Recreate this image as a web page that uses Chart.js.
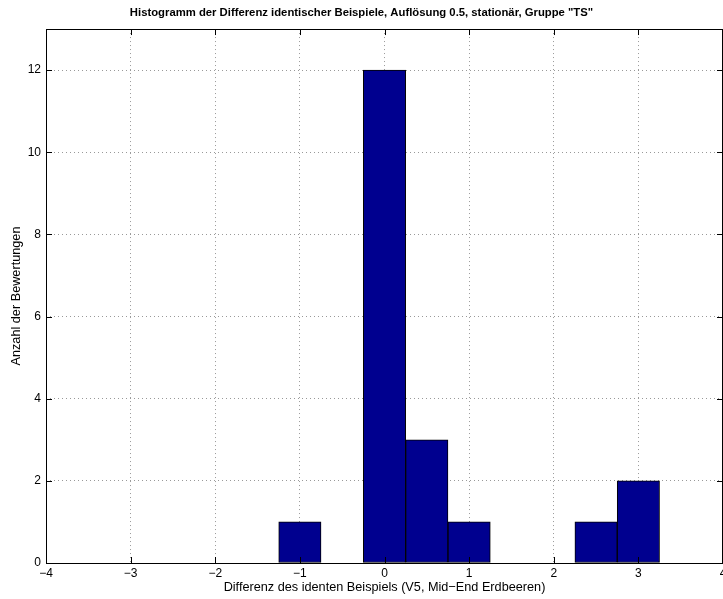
<!DOCTYPE html>
<html>
<head>
<meta charset="utf-8">
<script src="https://cdn.jsdelivr.net/npm/chart.js@4"></script>
<style>
    body { margin: 0; background: #fff; }
    #wrap { width: 723px; height: 599px; }
</style>
</head>
<body>
<div id="wrap"><canvas id="histChart"></canvas></div>
<script>
// bin centres (width 0.5) and counts
const binCenters = [-1, 0, 0.5, 1, 2.5, 3];
const counts = [1, 12, 3, 1, 1, 2];
const xTicks = [-4, -3, -2, -1, 0, 1, 2, 3, 4];
const yTicks = [0, 2, 4, 6, 8, 10, 12];

const fontFamily = '"Liberation Sans", Arial, Helvetica, sans-serif';

// matlab style box with inward tick marks
const boxPlugin = {
    id: 'matlabBox',
    afterDatasetsDraw(chart) {
        const { ctx, chartArea: a, scales } = chart;
        const len = 6;
        ctx.save();
        ctx.strokeStyle = '#000';
        ctx.lineWidth = 1;
        ctx.beginPath();
        yTicks.forEach(v => {
            const y = Math.round(scales.y.getPixelForValue(v)) + 0.5;
            ctx.moveTo(a.left, y); ctx.lineTo(a.left + len, y);
            ctx.moveTo(a.right, y); ctx.lineTo(a.right - len, y);
        });
        xTicks.forEach(v => {
            const x = Math.round(scales.x.getPixelForValue(v)) + 0.5;
            ctx.moveTo(x, a.bottom); ctx.lineTo(x, a.bottom - len);
            ctx.moveTo(x, a.top); ctx.lineTo(x, a.top + len);
        });
        ctx.stroke();
        ctx.strokeRect(Math.round(a.left) + 0.5, Math.round(a.top) + 0.5,
            Math.round(a.right - a.left) - 1, Math.round(a.bottom - a.top));
        ctx.restore();
    }
};

const minus = v => String(v).replace('-', '\u2212');

new Chart(document.getElementById('histChart'), {
    type: 'bar',
    data: {
        datasets: [{
            data: binCenters.map((c, i) => ({ x: c, y: counts[i] })),
            backgroundColor: '#00008f',
            borderColor: '#000',
            borderWidth: 1,
            borderSkipped: false,
            barPercentage: 1,
            categoryPercentage: 1
        }]
    },
    options: {
        responsive: true,
        maintainAspectRatio: false,
        animation: false,
        layout: { padding: 0 },
        plugins: {
            legend: { display: false },
            tooltip: { enabled: false },
            title: {
                display: true,
                text: 'Histogramm der Differenz identischer Beispiele, Auflösung 0.5, stationär, Gruppe "TS"',
                color: '#000',
                font: { family: fontFamily, size: 11.3, weight: 'bold' },
                padding: { top: 6, bottom: 9.5 }
            }
        },
        scales: {
            x: {
                type: 'linear',
                min: -4,
                max: 4,
                offset: false,
                afterBuildTicks: scale => { scale.ticks = xTicks.map(v => ({ value: v })); },
                afterFit: scale => {
                    scale.height = 36;
                    scale.paddingLeft = 0;
                    scale.paddingRight = 0;
                },
                grid: { offset: false, color: 'rgba(0,0,0,0.4)', lineWidth: 1, drawTicks: false },
                border: { display: false, dash: [1, 3] },
                ticks: {
                    color: '#000',
                    padding: 3,
                    maxRotation: 0,
                    font: { family: fontFamily, size: 12 },
                    callback: v => minus(v)
                },
                title: {
                    display: true,
                    text: 'Differenz des identen Beispiels (V5, Mid\u2212End Erdbeeren)',
                    color: '#000',
                    font: { family: fontFamily, size: 12.7 },
                    padding: { top: 0, bottom: 4 }
                }
            },
            y: {
                min: 0,
                max: 13,
                afterBuildTicks: scale => { scale.ticks = yTicks.map(v => ({ value: v })); },
                afterFit: scale => {
                    scale.width = 46;
                    scale.paddingTop = 0;
                    scale.paddingBottom = 0;
                },
                grid: { color: 'rgba(0,0,0,0.4)', lineWidth: 1, drawTicks: false },
                border: { display: false, dash: [1, 3] },
                ticks: {
                    color: '#000',
                    padding: 5,
                    font: { family: fontFamily, size: 12 },
                    callback: v => minus(v)
                },
                title: {
                    display: true,
                    text: 'Anzahl der Bewertungen',
                    color: '#000',
                    font: { family: fontFamily, size: 12.7 },
                    padding: { top: 9, bottom: 0 }
                }
            }
        }
    },
    plugins: [boxPlugin]
});
</script>
</body>
</html>
